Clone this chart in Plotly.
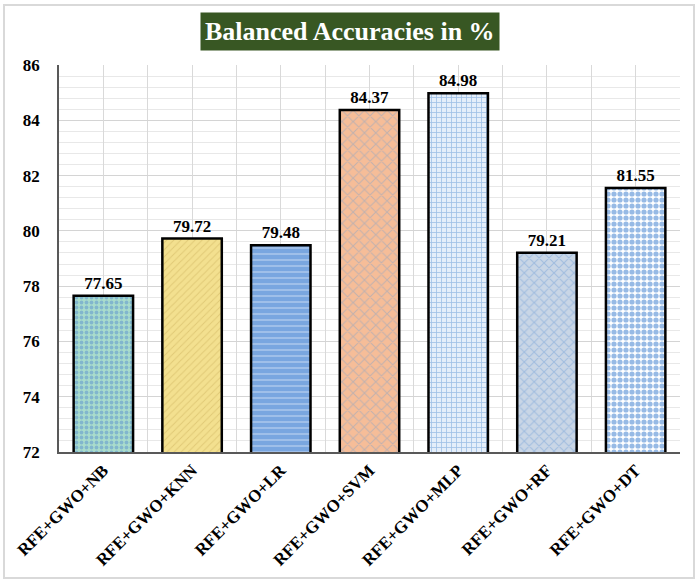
import plotly.graph_objects as go

categories = ["RFE+GWO+NB", "RFE+GWO+KNN", "RFE+GWO+LR", "RFE+GWO+SVM",
              "RFE+GWO+MLP", "RFE+GWO+RF", "RFE+GWO+DT"]
values = [77.65, 79.72, 79.48, 84.37, 84.98, 79.21, 81.55]
value_labels = ["77.65", "79.72", "79.48", "84.37", "84.98", "79.21", "81.55"]
y_ticks = [72, 74, 76, 78, 80, 82, 84, 86]

bg_colors = ["#a9dccb", "#f3e08f", "#79a6e0", "#f6bd98", "#e4eefa", "#c9d6e6", "#ffffff"]
fg_colors = ["#5a8fd0", "#cdb25e", "#dfe9f8", "#8fa5c3", "#5b93d3", "#7aa4d8", "#2f75cc"]
shapes_p = [".", "/", "-", "x", "+", "x", "."]
sizes_p = [5, 5, 6, 8, 5, 7, 6]
solid_p = [0.45, 0.2, 0.25, 0.25, 0.3, 0.3, 0.6]

serif = "Liberation Serif, Times New Roman, serif"

fig = go.Figure()
for i, cat in enumerate(categories):
    fig.add_trace(go.Bar(
        x=[cat], y=[values[i]], text=[value_labels[i]], textposition="outside",
        textfont=dict(family=serif, size=17, color="#000000"),
        texttemplate="<b>%{text}</b>",
        width=0.67, cliponaxis=False,
        marker=dict(color=bg_colors[i],
                    line=dict(color="#000000", width=2.5),
                    pattern=dict(shape=shapes_p[i], fgcolor=fg_colors[i], bgcolor=bg_colors[i],
                                 size=sizes_p[i], solidity=solid_p[i], fillmode="overlay")),
        hoverinfo="x+y", showlegend=False, name=cat,
    ))

# helper trace for the gridlines at the category centres
fig.add_trace(go.Scatter(x=[0], y=[72], xaxis="x2", mode="markers",
                         marker=dict(opacity=0), showlegend=False, hoverinfo="skip"))

fig.update_layout(
    width=700, height=586, barmode="overlay",
    margin=dict(l=59, r=20, t=65, b=134),
    paper_bgcolor="#ffffff", plot_bgcolor="#ffffff",
    font=dict(family=serif, color="#000000"),
    xaxis=dict(type="category", categoryorder="array", categoryarray=categories,
               range=[-0.5, 6.5], tickson="boundaries", showgrid=True, automargin=False,
               gridcolor="#d9d9d9", gridwidth=1, ticks="", tickangle=-45,
               tickfont=dict(family=serif, size=17, color="#000000", weight="bold"),
               showline=True, linecolor="#595959", linewidth=1.5, zeroline=False),
    xaxis2=dict(overlaying="x", range=[-0.5, 6.5], dtick=1, tick0=0, automargin=False,
                showgrid=True, gridcolor="#d9d9d9", gridwidth=1,
                showticklabels=False, zeroline=False, showline=False),
    yaxis=dict(range=[72, 86], tickvals=y_ticks, showgrid=True, automargin=False,
               gridcolor="#d4d4d4", gridwidth=1.2,
               minor=dict(dtick=0.4, tick0=72, showgrid=True, gridcolor="#e8e8e8", gridwidth=1),
               tickfont=dict(family=serif, size=17, color="#000000", weight="bold"),
               ticks="outside", ticklen=14, tickcolor="rgba(0,0,0,0)",
               showline=True, linecolor="#595959", linewidth=1.5, zeroline=False),
    annotations=[dict(text="<b>Balanced Accuracies in %</b>", xref="paper", yref="paper",
                      x=(350 - 59) / 621, y=1 + (65 - 31) / 387, xanchor="center", yanchor="middle",
                      showarrow=False, bgcolor="#385723", borderpad=4,
                      font=dict(family=serif, size=26, color="#ffffff"))],
    shapes=[dict(type="rect", xref="paper", yref="paper",
                 x0=(4 - 59) / 621, x1=(694 - 59) / 621,
                 y0=-(578 - 452) / 387, y1=1 + (65 - 5) / 387,
                 line=dict(color="#d9d9d9", width=2), layer="below")],
)

fig.write_html("out.html", config={"displayModeBar": False},
               post_script="document.body.style.margin='0px';")
